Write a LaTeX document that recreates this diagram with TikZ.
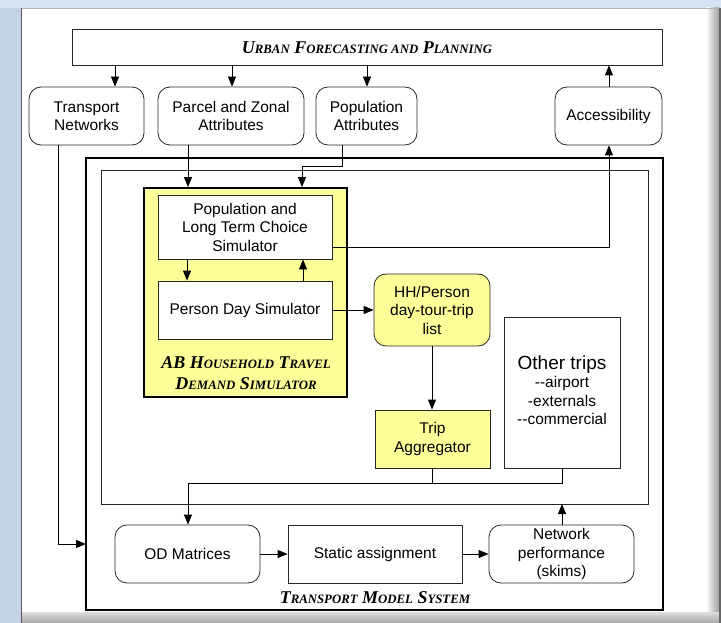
\documentclass[tikz,border=0pt]{standalone}
\usepackage{fontspec}
\setmainfont{Liberation Sans}
\newfontfamily\ttlfont{Liberation Serif}[BoldItalicFont={* Bold Italic}]
\usetikzlibrary{arrows.meta}
\definecolor{bgblue}{RGB}{196,211,232}
\definecolor{bgtop}{RGB}{214,225,241}
\definecolor{pale}{RGB}{255,255,153}
\definecolor{edge}{RGB}{40,40,40}
\newcommand\BigL[1]{{\fontsize{18}{21}\selectfont #1}}
\newcommand\SmL[1]{{\fontsize{12.8}{21}\selectfont #1}}
\newcommand\ttlstyle{\ttlfont\bfseries\itshape\fontsize{18}{21}\selectfont}
\begin{document}
\begin{tikzpicture}[x=1pt,y=-1pt,
  txt/.style={font=\fontsize{15.5}{18.5}\selectfont, align=center, text=black},
  sbox/.style={txt, draw=edge, line width=0.8pt, fill=white, inner sep=0pt},
  rbox/.style={sbox, rounded corners=12pt},
  ybox/.style={sbox, fill=pale},
  yrbox/.style={rbox, fill=pale},
  arr/.style={draw=black, line width=0.8pt, -{Triangle[length=10pt,width=8pt]}},
  ln/.style={draw=black, line width=0.8pt},
  ttl/.style={font=\ttlstyle, text=black, inner sep=0pt}
]
\useasboundingbox (0,0) rectangle (721,623);
% background
\fill[bgblue] (0,0) rectangle (721,623);
\fill[bgtop] (0,0) rectangle (721,8);
\shade[left color=white, right color=gray!75] (706,8) rectangle (719,612);
\fill[white] (22,8) rectangle (706,612);
\shade[top color=gray!25, bottom color=gray!70] (22,612) rectangle (719,623);
\fill[gray!80!black] (719,8) rectangle (721,623);
\draw[gray!70!black, line width=1pt] (21.5,8) -- (21.5,623);
\draw[gray!60, line width=0.6pt] (22,8) -- (719,8);

% containers
\draw[black, line width=1.8pt] (86,158) rectangle (663,610);
\draw[edge, line width=0.8pt] (101,170) rectangle (648,504);
\node[ybox, line width=1.8pt, draw=black, minimum width=203, minimum height=209] (ab) at (245.5,292.5) {};
\node[ttl, align=center] (abl) at (246,373)
  {\BigL{AB H}\SmL{OUSEHOLD} \BigL{T}\SmL{RAVEL}\\\BigL{D}\SmL{EMAND} \BigL{S}\SmL{IMULATOR}};
\node[ttl] (tmsl) at (375,597.5) {\BigL{T}\SmL{RANSPORT} \BigL{M}\SmL{ODEL} \BigL{S}\SmL{YSTEM}};

% nodes
\node[sbox, minimum width=590, minimum height=36] (top) at (367,47) {};
\node[ttl] (topl) at (367,47.5) {\BigL{U}\SmL{RBAN} \BigL{F}\SmL{ORECASTING AND} \BigL{P}\SmL{LANNING}};
\node[rbox, minimum width=115, minimum height=58] (tn) at (86.5,116) {Transport\\Networks};
\node[rbox, minimum width=146, minimum height=58] (pz) at (231,116) {Parcel and Zonal\\Attributes};
\node[rbox, minimum width=101, minimum height=58] (pa) at (366.5,116) {Population\\Attributes};
\node[rbox, minimum width=107, minimum height=58] (acc) at (608.5,116) {Accessibility};

\node[sbox, minimum width=174, minimum height=64] (ltc) at (245,227) {Population and\\Long Term Choice\\Simulator};
\node[sbox, minimum width=174, minimum height=58] (pds) at (245,310) {Person Day Simulator};
\node[yrbox, minimum width=116, minimum height=72] (hh) at (432,310) {HH/Person\\day-tour-trip\\list};
\node[ybox, minimum width=115, minimum height=58] (ta) at (432.5,439) {Trip\\Aggregator};
\node[sbox, minimum width=116, minimum height=151] (ot) at (562,392.5) {};
\node[txt, align=center, inner sep=0pt] (otl) at (562,390)
  {{\fontsize{19}{21}\selectfont Other trips}\\-{}-airport\\-externals\\-{}-commercial};

\node[rbox, minimum width=145, minimum height=58] (od) at (187.5,554) {OD Matrices};
\node[sbox, minimum width=174, minimum height=58] (sa) at (375,554) {Static assignment};
\node[rbox, minimum width=145, minimum height=58] (np) at (561.5,554) {Network\\performance\\(skims)};

% helper coordinates
\coordinate (tmsw) at (86,544);
\coordinate (innS) at (562,504);
\coordinate (jn) at (188,483);

% connectors
\draw[arr] (top.south -| 115,0) -- (tn.north -| 115,0);
\draw[arr] (top.south -| 232,0) -- (pz.north -| 232,0);
\draw[arr] (top.south -| 367,0) -- (pa.north -| 367,0);
\draw[arr] (acc.north -| 609,0) -- (top.south -| 609,0);

\draw[arr] (pz.south -| 188,0) -- (ab.north -| 188,0);
\draw[arr] (pa.south -| 342,0) |- (302,166) -- (ab.north -| 302,0);
\draw[arr] (tn.south -| 58,0) |- (tmsw);
\draw[arr] (ltc.east |- 0,247) -| (acc.south -| 609,0);

\draw[arr] (ltc.south -| 187,0) -- (pds.north -| 187,0);
\draw[arr] (pds.north -| 303,0) -- (ltc.south -| 303,0);
\draw[arr] (pds.east) -- (hh.west);
\draw[arr] (hh.south) -- (ta.north -| hh.south);

\draw[ln] (ta.south -| 432,0) |- (jn);
\draw[ln] (ot.south) |- (jn);
\draw[arr] (jn) -- (od.north -| jn);

\draw[arr] (od.east) -- (sa.west);
\draw[arr] (sa.east) -- (np.west);
\draw[arr] (np.north -| innS) -- (innS);
\end{tikzpicture}
\end{document}
